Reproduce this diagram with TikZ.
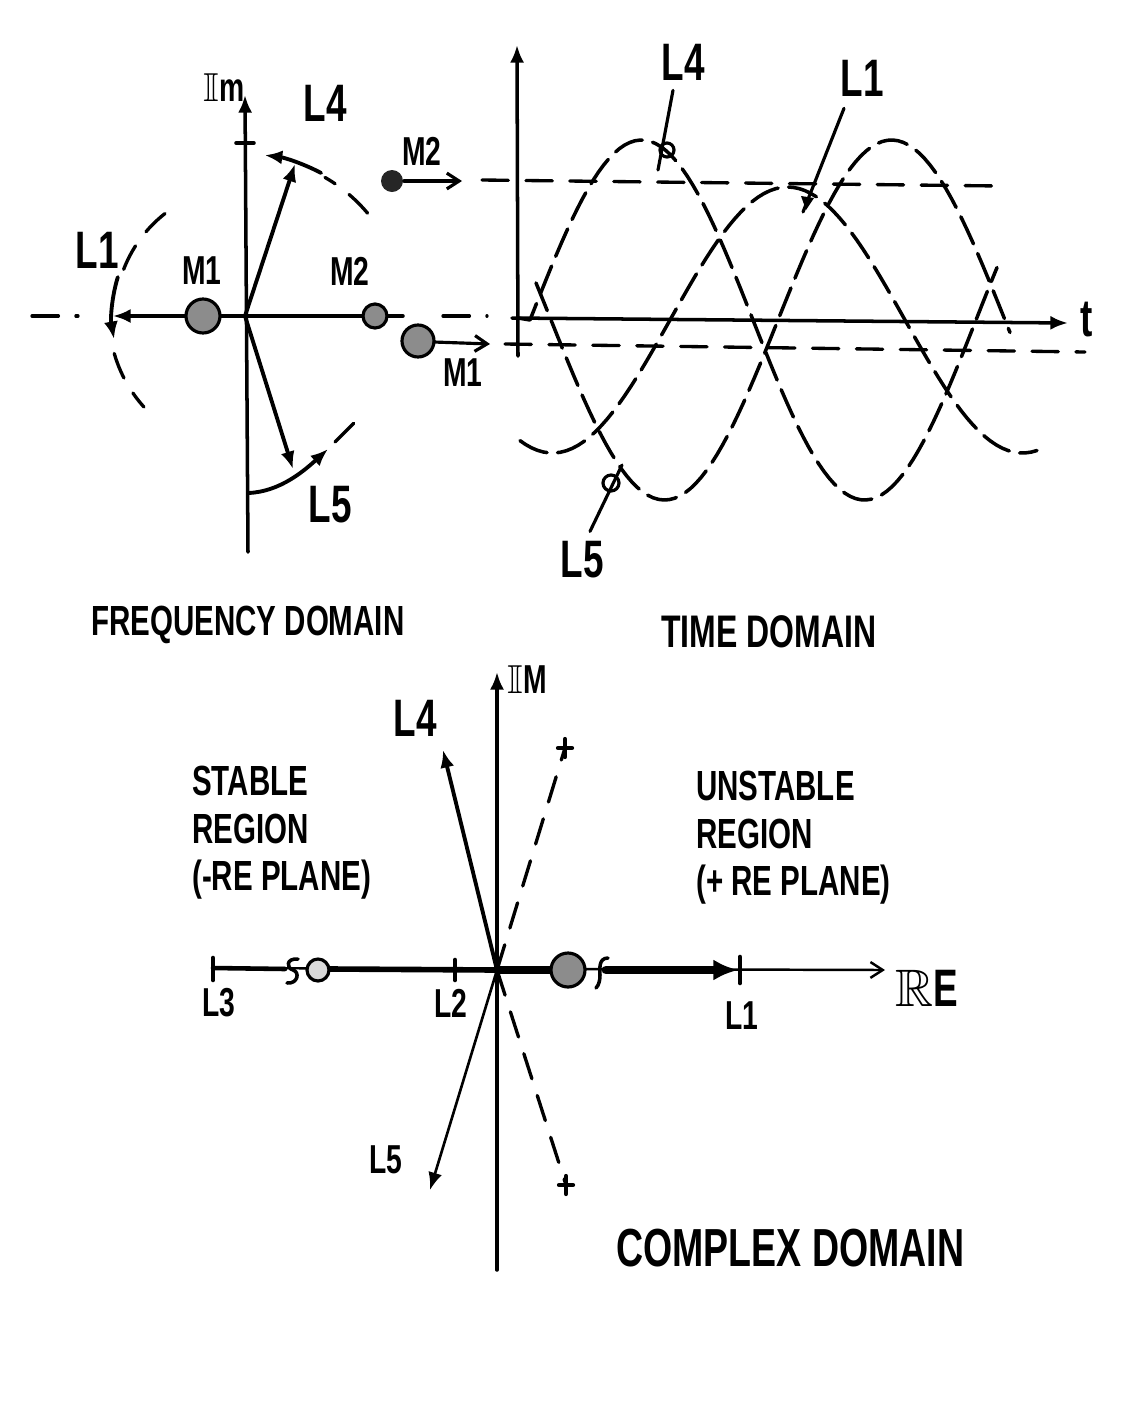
\documentclass[tikz,border=0pt]{standalone}
\usepackage{fontspec}
\usepackage{amssymb}
\setmainfont{Liberation Sans}[FakeStretch=0.70]
\usetikzlibrary{arrows.meta}

\begin{document}
\begin{tikzpicture}[x=0.02cm,y=-0.02cm,line cap=round,line join=round,>={Latex[length=10pt,width=8pt]},
  axis/.style={line width=2pt},
  vec/.style={line width=2.2pt,->},
  wave/.style={line width=2pt,dash pattern=on 17pt off 6pt},
  guide/.style={line width=1.9pt,dash pattern=on 15pt off 10pt},
  mass/.style={draw=black,line width=1.8pt,fill=black!45},
  barb/.style={-{Straight Barb[length=7pt,width=9pt]}},
  lbl/.style={font=\fontsize{30}{30}\selectfont\bfseries},
  mlbl/.style={font=\fontsize{23}{23}\selectfont\bfseries},
  title/.style={font=\fontsize{24}{24}\selectfont\bfseries,anchor=west},
  region/.style={font=\fontsize{24}{27}\selectfont\bfseries,align=left,anchor=west}]
  \useasboundingbox (0,0) rectangle (1132,1404);

  \coordinate (FO) at (245,316);
  \coordinate (FL1) at (113,316);
  \coordinate (FL4) at (295,164);
  \coordinate (FL5) at (293,469);
  \draw[axis,->] (248,552) -- (245,95);
  \draw[axis] (236,143) -- (254,143);
  \draw[axis] (FO) -- (403,316);
  \draw[guide] (32,316) -- (78,316);
  \draw[guide] (443,316) -- (487,316);
  \draw[vec] (FO) -- (FL1);
  \draw[vec] (FO) -- (FL4);
  \draw[vec] (FO) -- (FL5);
  \draw[line width=2.2pt,->] (FO) ++(-62:162) arc[start angle=-62,end angle=-83,radius=162];
  \draw[guide] (FO) ++(-40:160) arc[start angle=-40,end angle=-60,radius=160];
  \draw[line width=2.2pt,->] (FO) ++(-163:133) arc[start angle=-163,end angle=-190,radius=133];
  \draw[guide] (FO) ++(-128:130) arc[start angle=-128,end angle=-160,radius=130];
  \draw[guide] (FO) ++(-196:136) arc[start angle=-196,end angle=-222,radius=136];
  \draw[line width=2.2pt,->] (248,493) .. controls (280,492) and (305,470) .. (328,449);
  \draw[guide] (335,442) -- (357,420);
  \draw[mass] (203,316) circle (17);
  \draw[mass] (375,316) circle (12);
  \node[mlbl] (FIm) at (224,88) {$\mathbb{I}$m};
  \node[lbl] (FL4t) at (325,103) {L4};
  \node[lbl] (FL1t) at (97,250) {L1};
  \node[mlbl] (FM1t) at (202,271) {M1};
  \node[mlbl] (FM2t) at (350,271) {M2};
  \node[lbl] (FL5t) at (330,505) {L5};

  \coordinate (TO) at (518,318);
  \draw[axis,->] (518,356) -- (517,45);
  \draw[axis,->] (512,318) -- (1068,323);
  \node[lbl] (Tt) at (1087,320) {t};
  \draw[wave] (TO) -- plot[domain=530:997,samples=90] (\x,{320-180*sin((\x-530)/223*180)});
  \draw[wave] plot[domain=536:1010,samples=90] (\x,{320+180*sin((\x-551)/227*180)});
  \draw[wave] plot[domain=520:1037,samples=90] (\x,{320-133*sin((\x-670)/235*180)});
  \fill[black!85] (392,181) circle (11);
  \draw[line width=1.8pt,barb] (404,181) -- (462,181);
  \draw[guide] (482,180) -- (1000,186);
  \draw[mass] (418,341) circle (16);
  \draw[line width=1.8pt,barb] (434,342) -- (490,344);
  \draw[guide] (505,344) -- (1085,352);
  \node[mlbl] (TM2t) at (422,151) {M2};
  \node[mlbl] (TM1t) at (463,373) {M1};
  \node[lbl] (TL4t) at (683,62) {L4};
  \node[lbl] (TL1t) at (862,78) {L1};
  \node[lbl] (TL5t) at (582,560) {L5};
  \draw[line width=1.8pt] (TL4t.south) ++(-10,4) -- (658,170);
  \draw[line width=1.8pt] (667,150) circle (7);
  \draw[line width=1.8pt] (TL1t.south) ++(-18,6) -- (803,212);
  \fill (801,196) -- (814,198) -- (806,210) -- cycle;
  \draw[line width=1.8pt] (TL5t.north) ++(8,-4) -- (622,465);
  \draw[line width=1.8pt] (611,483) circle (8);
  \node[title] (FDom) at (85,625) {FREQUENCY DOMAIN};
  \node[title,font=\fontsize{26}{26}\selectfont\bfseries] (TDom) at (655,632) {TIME DOMAIN};

  \coordinate (CO) at (497,970);
  \draw[axis,->] (497,1270) -- (497,672);
  \draw[line width=1.4pt,barb] (213,968) -- (885,970);
  \draw[line width=2.6pt] (213,968) -- (285,969);
  \draw[line width=2pt] (298,959) .. controls (286,958) and (286,968) .. (293,970) .. controls (300,972) and (298,984) .. (287,983);
  \draw[line width=3.2pt] (330,969) -- (CO);
  \draw[line width=4.2pt] (CO) -- (552,970);
  \draw[line width=2pt] (608,958) .. controls (598,958) and (600,970) .. (600,975) .. controls (600,980) and (599,985) .. (596,988);
  \draw[line width=5pt,-{Latex[length=14pt,width=12pt]}] (606,970) -- (738,970);
  \draw[line width=2.6pt] (213,958) -- (213,980);
  \draw[line width=2.6pt] (455,960) -- (455,980);
  \draw[line width=2.6pt] (740,957) -- (740,983);
  \draw[mass,fill=black!15] (318,970) circle (11);
  \draw[mass] (568,970) circle (17);
  \coordinate (CL4) at (443,750);
  \coordinate (CL5) at (430,1190);
  \coordinate (CUp) at (565,748);
  \coordinate (CDn) at (566,1185);
  \draw[vec] (CO) -- (CL4);
  \draw[line width=1.5pt,->] (CO) -- (CL5);
  \draw[guide] (CO) -- (CUp);
  \draw[guide] (CO) -- (CDn);
  \draw[line width=2.4pt] (CUp) ++(-7,0) -- ++(14,0) (CUp) ++(0,-9) -- ++(0,18);
  \draw[line width=2.4pt] (CDn) ++(-7,0) -- ++(14,0) (CDn) ++(0,-9) -- ++(0,18);
  \node[mlbl] (CIm) at (527,680) {$\mathbb{I}$M};
  \node[lbl] (CRe) at (927,988) {$\mathbb{R}$E};
  \node[lbl] (CL4t) at (415,718) {L4};
  \node[mlbl] (CL3t) at (219,1003) {L3};
  \node[mlbl] (CL2t) at (451,1003) {L2};
  \node[mlbl] (CL1t) at (742,1016) {L1};
  \node[mlbl] (CL5t) at (386,1160) {L5};
  \node[region] (Stab) at (186,833) {STABLE\\REGION\\(-RE PLANE)};
  \node[region] (Unst) at (690,838) {UNSTABLE\\REGION\\(+ RE PLANE)};
  \node[title,font=\fontsize{30.5}{31}\selectfont\bfseries] (CDom) at (610,1248) {COMPLEX DOMAIN};
\end{tikzpicture}
\end{document}
